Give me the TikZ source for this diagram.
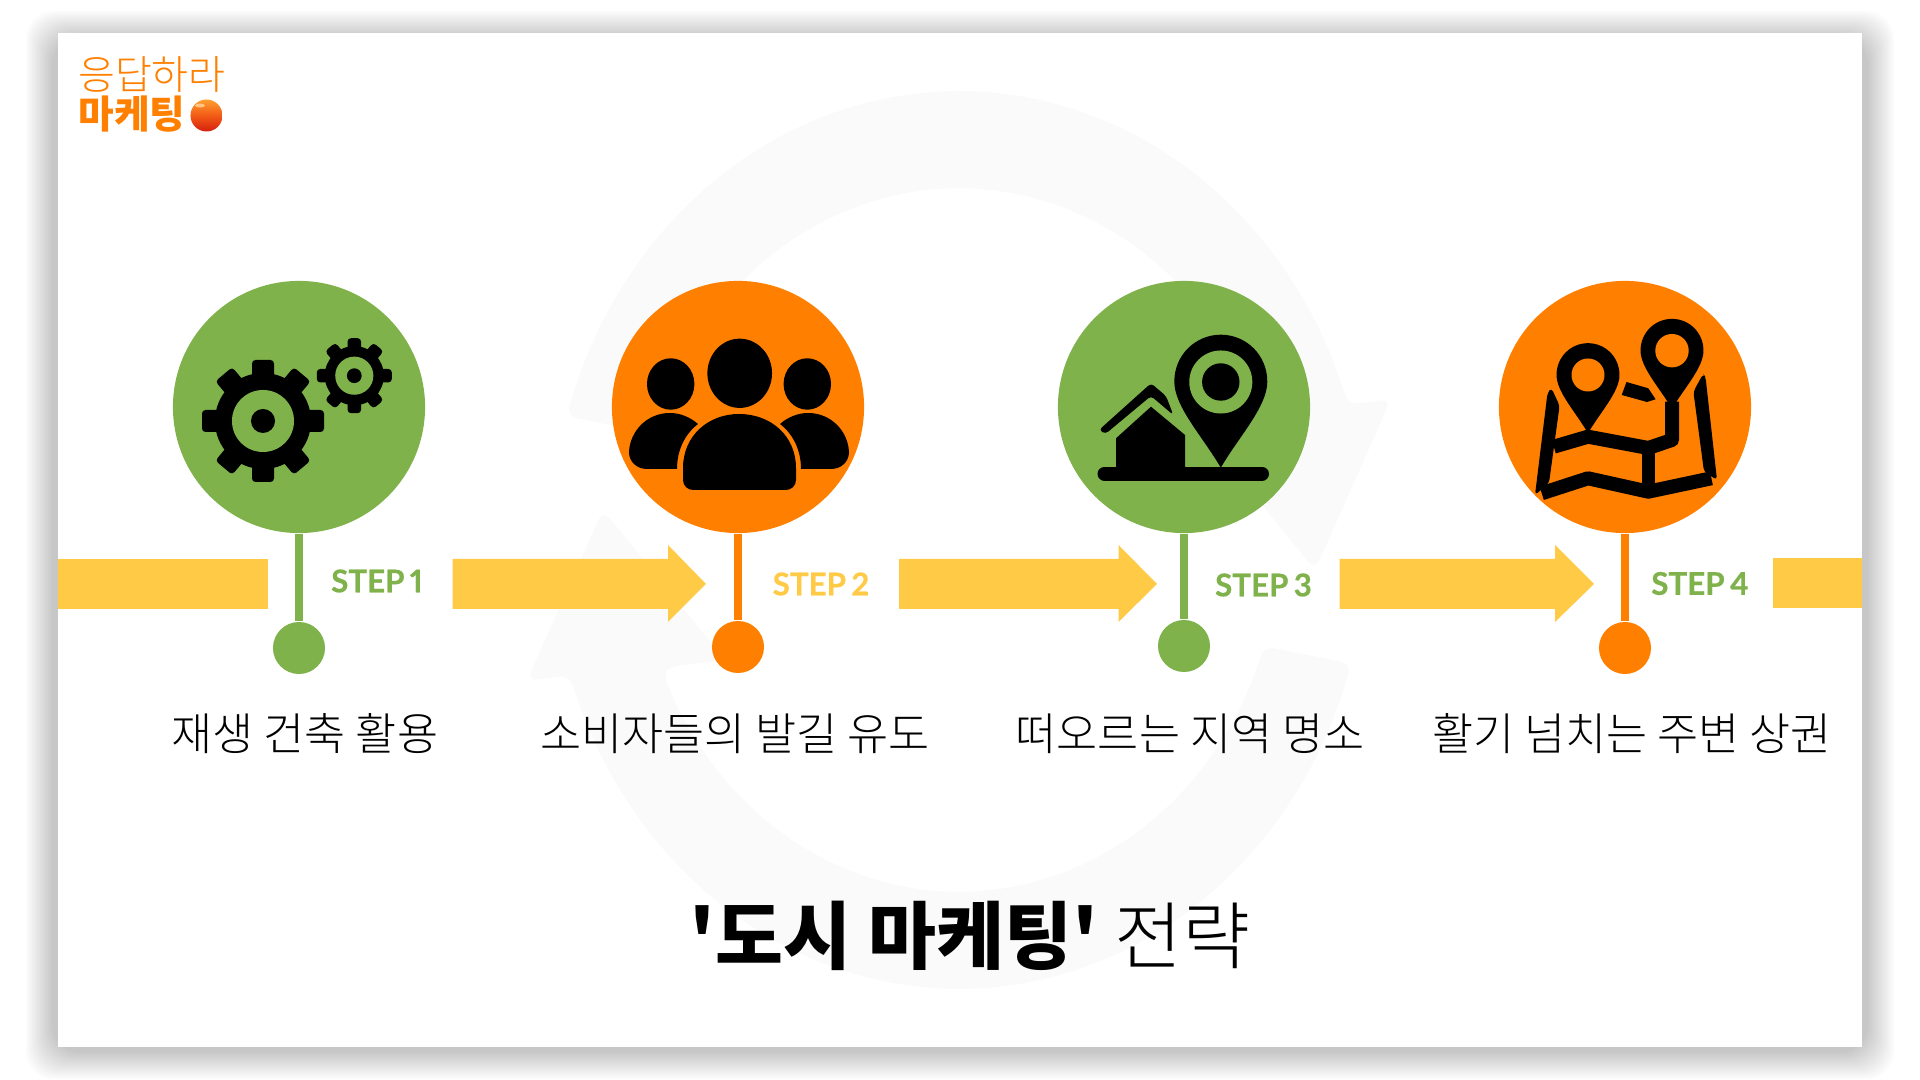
\documentclass[tikz,border=0pt]{standalone}
\usepackage{fontspec}
\setmainfont{Noto Sans CJK KR}
\newfontfamily\krlight{Noto Sans CJK KR Light}
\newfontfamily\krblack{Noto Sans CJK KR Black}
\newfontfamily\latofont[Numbers=Proportional, WordSpace=0.7, BoldFeatures={FakeBold=0.5}]{Lato}
\definecolor{stepgreen}{HTML}{7FB24B}
\definecolor{steporange}{HTML}{FF8000}
\definecolor{stepyellow}{HTML}{FFCB47}
\definecolor{ghostgray}{HTML}{FAFAFA}
\definecolor{balltop}{HTML}{FFA030}
\definecolor{ballmid}{HTML}{F25A16}
\definecolor{ballbottom}{HTML}{D4200F}
\tikzset{
  bigdisc/.style={circle, minimum size=2.52cm, inner sep=0, fill=#1},
  smalldisc/.style={circle, minimum size=0.52cm, inner sep=0, fill=#1},
  stemline/.style={line width=0.08cm, draw=#1},
  bararrow/.style={fill=stepyellow},
  steplabel/.style={text=#1, font=\latofont\bfseries\fontsize{8.9}{10}\selectfont, inner sep=0},
  caption/.style={font=\krlight\fontsize{12.7}{15}\selectfont, inner sep=0},
}
% big gear is drawn at scale 1, with a hole in the colour behind it
\newcommand{\gearicon}[3]{
  \begin{scope}[shift={(#1,#2)}, scale=#3]
    \fill[black] (0,0) circle[radius=0.48cm];
    \foreach \a in {0,90,180,270,40,140,220,320}
      \fill[black, rounded corners=1pt, rotate=\a] (-11,-61) rectangle (11,-40);
    \fill[stepgreen] (0,0) circle[radius=0.31cm];
    \fill[black] (0,0) circle[radius=0.12cm];
  \end{scope}
}
\newcommand{\pinicon}[3]{
  \begin{scope}[shift={(#1,#2)}, scale=#3]
    \fill[black] (0,86) .. controls (18,55) and (46.5,25) .. (46.5,0) .. controls (46.5,-27) and (25,-47) .. (0,-47)
      .. controls (-25,-47) and (-46.5,-27) .. (-46.5,0) .. controls (-46.5,25) and (-18,55) .. (0,86) -- cycle;
  \end{scope}
}
\begin{document}
\begin{tikzpicture}[x=0.01cm, y=-0.01cm]
  \useasboundingbox (0,0) rectangle (1920,1080);
  \fill[white] (0,0) rectangle (1920,1080);
  \foreach \s in {32,30,...,6}
    \fill[black, opacity=0.016, rounded corners=8pt] ({58-\s},{43-\s}) rectangle ({1862+\s},{1047+\s});
  \fill[white] (58,33) rectangle (1862,1047);

  % the two pale arrows behind everything
  \foreach \ang in {0,180} {
    \fill[ghostgray, rounded corners=3pt, rotate around={\ang:(959,540)}]
      plot[domain=196:342.5, samples=50] ({959+408*cos(\x)},{540+449*sin(\x)})
      -- (1391,399) -- (1315,570) -- (1193,420) -- (1250,413)
      -- plot[domain=338:197.6, samples=50] ({959+320*cos(\x)},{540+352*sin(\x)}) -- cycle;
  }

  \fill[bararrow] (58,559) rectangle (267.5,609);
  \fill[bararrow] (452.5,559) -- (668,559) -- (668,545) -- (706,584) -- (668,622) -- (668,609) -- (452.5,609) -- cycle;
  \fill[bararrow] (899,559) -- (1118.5,559) -- (1118.5,545) -- (1157,584) -- (1118.5,622) -- (1118.5,609) -- (899,609) -- cycle;
  \fill[bararrow] (1339.5,559) -- (1555,559) -- (1555,545) -- (1594,584) -- (1555,622) -- (1555,609) -- (1339.5,609) -- cycle;
  \fill[bararrow] (1772.5,558) rectangle (1862,608);

  \node[bigdisc=stepgreen](discA) at (299,407) {};
  \node[bigdisc=steporange](discB) at (738,407) {};
  \node[bigdisc=stepgreen](discC) at (1184,407) {};
  \node[bigdisc=steporange](discD) at (1625,407) {};
  \node[smalldisc=stepgreen](dotA) at (299,648) {};
  \node[smalldisc=steporange](dotB) at (738,647) {};
  \node[smalldisc=stepgreen](dotC) at (1184,646) {};
  \node[smalldisc=steporange](dotD) at (1625,648) {};

  \draw[stemline=stepgreen] (discA) -- (dotA);
  \draw[stemline=steporange] (discB) -- (dotB);
  \draw[stemline=stepgreen] (discC) -- (dotC);
  \draw[stemline=steporange] (discD) -- (dotD);

  \node[steplabel=stepgreen](stepA) at (377,581) {STEP 1};
  \node[steplabel=stepyellow](stepB) at (821,584) {STEP 2};
  \node[steplabel=stepgreen](stepC) at (1263.5,585) {STEP 3};
  \node[steplabel=stepgreen](stepD) at (1700,583.5) {STEP 4};

  \node[caption](capA) at (305,734) {재생 건축 활용};
  \node[caption](capB) at (735,734) {소비자들의 발길 유도};
  \node[caption](capC) at (1190,734) {떠오르는 지역 명소};
  \node[caption](capD) at (1632,734) {활기 넘치는 주변 상권};

  \node[inner sep=0, font=\fontsize{21}{26}\selectfont](title) at (970,936) {{\krblack '도시 마케팅'} {\krlight 전략}};

  \node[inner sep=0, text=steporange, font=\krlight\fontsize{11.4}{13}\selectfont](logoTop) at (152,75) {응답하라};
  \node[inner sep=0, text=steporange, font=\krblack\fontsize{11}{13}\selectfont](logoBottom) at (132,114) {마케팅};
  \node[circle, minimum size=0.32cm, inner sep=0, top color=balltop, bottom color=ballbottom, middle color=ballmid](logoBall) at (206.5,115.5) {};
  \fill[balltop!60!white] (200,105.5) ellipse[x radius=0.05cm, y radius=0.02cm];

  % gears
  \gearicon{263}{421}{1}
  \gearicon{354.3}{375.7}{0.615}

  % people
  \fill[black] (739.7,373.3) ellipse[x radius=0.323cm, y radius=0.346cm];
  \fill[black] (670.7,384) ellipse[x radius=0.237cm, y radius=0.257cm];
  \fill[black] (807.3,384) ellipse[x radius=0.237cm, y radius=0.257cm];
  \fill[black] (683,468) .. controls (683,436) and (708,414) .. (739,414) .. controls (771,414) and (796,436) .. (796,468)
    -- (796,480) .. controls (796,486) and (791,490) .. (786,490) -- (693,490) .. controls (688,490) and (683,486) .. (683,480) -- cycle;
  \fill[black] (677,469) .. controls (677,450) and (685,434) .. (698,424) .. controls (690,417) and (680,413) .. (670,413)
    .. controls (647,413) and (630,431) .. (629,452) .. controls (629,462) and (637,469) .. (647,469) -- cycle;
  \fill[black] (801,469) .. controls (801,450) and (793,434) .. (780,424) .. controls (788,417) and (798,413) .. (808,413)
    .. controls (831,413) and (848,431) .. (849,452) .. controls (849,462) and (841,469) .. (831,469) -- cycle;

  % house and pin
  \pinicon{1220.8}{381.7}{1}
  \fill[stepgreen] (1220.8,382) circle[radius=0.315cm];
  \fill[black] (1220.8,382) circle[radius=0.187cm];
  \fill[black] (1116,467) -- (1116,438.3) -- (1151,406.7) -- (1185,435) -- (1185,467) -- cycle;
  \fill[black, rounded corners=1pt] (1099,430) -- (1151,383.3) -- (1166,396) -- (1173.3,415) -- (1151,396) -- (1105.4,434) -- cycle;
  \draw[black, line width=0.14cm, line cap=round] (1104.5,473.7) -- (1262,473.7);

  % map and its two pins
  \pinicon{1588}{375}{0.677}
  \pinicon{1672}{350.7}{0.677}
  \fill[steporange] (1588,375) circle[radius=0.165cm];
  \fill[steporange] (1672,350.7) circle[radius=0.167cm];
  \draw[black, line width=0.14cm, line join=round] (1553.8,446.7) -- (1588,436.7) -- (1648.3,448) -- (1672,440) -- (1672,401.7);
  \draw[black, line width=0.14cm, line join=round] (1541.7,493.3) -- (1588,478.3) -- (1648.3,491.7) -- (1711.4,478.3);
  \draw[black, line width=0.13cm] (1648.3,448) -- (1648.3,491.7);
  \fill[black, rounded corners=1pt] (1535,495) -- (1547.5,393) -- (1551.4,388) -- (1559.6,405.7) -- (1549,483) -- cycle;
  \fill[black, rounded corners=1pt] (1717,480) -- (1705.5,376.7) -- (1703,374) -- (1693.4,391.7) -- (1704,471.7) -- cycle;
  \fill[black] (1626.5,382) -- (1648.3,388.3) -- (1655.6,399.3) -- (1647,402) -- (1621.7,395) -- cycle;
\end{tikzpicture}
\end{document}
